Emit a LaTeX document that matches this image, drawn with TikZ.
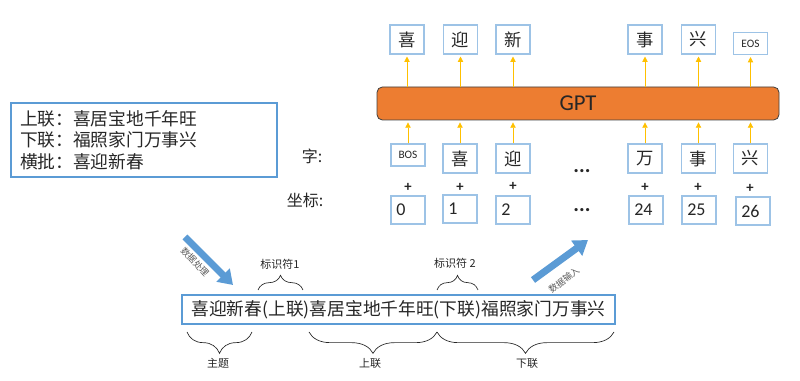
\documentclass[tikz,border=0pt]{standalone}
\usepackage{fontspec}
\setmainfont{Carlito}
\newfontfamily\cjk{Noto Sans CJK SC}
\usetikzlibrary{arrows.meta, decorations.pathreplacing}
\definecolor{palboxline}{RGB}{157,195,230}
\definecolor{palframe}{RGB}{91,155,213}
\definecolor{palgpt}{RGB}{237,125,49}
\definecolor{palgptline}{RGB}{64,64,64}
\definecolor{palfeed}{RGB}{255,192,0}
\definecolor{palflow}{RGB}{91,155,213}
\definecolor{palink}{RGB}{38,38,38}
\definecolor{palgray}{RGB}{89,89,89}
\tikzset{
  charbox/.style={
    draw=palboxline,
    line width=0.8pt,
    fill=white,
    minimum width=25.5pt,
    minimum height=21.75pt,
    inner sep=0pt,
    font=\cjk\fontsize{13}{15}\selectfont,
    text=palink
  },
  tagbox/.style={
    draw=palboxline,
    line width=0.8pt,
    fill=white,
    minimum width=25.5pt,
    minimum height=16.5pt,
    inner sep=0pt,
    font=\fontsize{8.5}{10}\selectfont,
    text=palink
  },
  numbox/.style={
    draw=palboxline,
    line width=0.8pt,
    fill=white,
    minimum width=25.5pt,
    minimum height=21pt,
    inner xsep=4pt,
    text width=17.5pt,
    align=left,
    font=\fontsize{13.5}{15}\selectfont,
    text=palink
  },
  gptbox/.style={
    draw=palgptline,
    line width=0.6pt,
    rounded corners=4pt,
    fill=palgpt,
    minimum width=301.5pt,
    minimum height=24.75pt,
    font=\fontsize{17}{19}\selectfont,
    text=palink
  },
  couplet/.style={
    draw=palframe,
    line width=0.9pt,
    minimum width=199.5pt,
    minimum height=55.5pt,
    inner xsep=6.75pt,
    text width=186pt,
    align=left,
    font=\cjk\fontsize{13.3}{16}\selectfont,
    text=palink
  },
  seqbox/.style={
    draw=palframe,
    line width=0.9pt,
    minimum width=324.75pt,
    minimum height=21.75pt,
    inner sep=0pt,
    font=\cjk\fontsize{13.3}{15}\selectfont,
    text=palink
  },
  rowlbl/.style={font=\cjk\fontsize{12}{14}\selectfont, text=palink},
  plus/.style={font=\bfseries\fontsize{11}{12}\selectfont, text=palink, inner sep=0pt},
  gap/.style={font=\bfseries\fontsize{16}{16}\selectfont, text=palink, inner sep=0pt},
  feed/.style={-{Triangle[length=4pt, width=4pt]}, draw=palfeed, line width=0.6pt, shorten >=1.5pt},
  flow/.style={-{Triangle[length=10.5pt, width=13.5pt]}, draw=palflow, line width=5.25pt},
  flowlbl/.style={font=\cjk\fontsize{6.75}{8}\selectfont, text=palgray, inner sep=0pt},
  bracetop/.style={decorate, decoration={brace, amplitude=11pt}, draw=palink, line width=0.5pt},
  bracebottom/.style={decorate, decoration={brace, mirror, amplitude=16pt}, draw=palink, line width=0.5pt},
  bracelbl/.style={font=\cjk\fontsize{8.25}{10}\selectfont, text=palink, inner sep=0pt}
}
\begin{document}
\begin{tikzpicture}[x=0.75pt,y=0.75pt]
  \useasboundingbox (0,0) rectangle (800,381);

  \node[couplet] (couplet) at (144,241) {上联：喜居宝地千年旺\\下联：福照家门万事兴\\横批：喜迎新春};

  \node[gptbox] (gpt) at (578,277.5) {GPT};

  \node[charbox] (out1) at (407,341.5) {喜};
  \node[charbox] (out2) at (460.5,341.5) {迎};
  \node[charbox] (out3) at (513,341.5) {新};
  \node[charbox] (out4) at (645,341.5) {事};
  \node[charbox] (out5) at (698.5,341.5) {兴};
  \node[tagbox] (out6) at (750.5,337.5) {EOS};

  \node[rowlbl] (charlbl) at (312,225) {字:};
  \node[tagbox] (in1) at (408,226) {BOS};
  \node[charbox] (in2) at (460,222.5) {喜};
  \node[charbox] (in3) at (513,222.5) {迎};
  \node[gap] (indots) at (582,210) {...};
  \node[charbox] (in4) at (645,222.5) {万};
  \node[charbox] (in5) at (698.5,222.5) {事};
  \node[charbox] (in6) at (750.5,222.5) {兴};

  \node[plus] (plus1) at (408,194) {+};
  \node[plus] (plus2) at (460,194) {+};
  \node[plus] (plus3) at (513,195) {+};
  \node[plus] (plus4) at (645,194) {+};
  \node[plus] (plus5) at (698,194) {+};
  \node[plus] (plus6) at (750,193) {+};

  \node[rowlbl] (poslbl) at (305,181) {坐标:};
  \node[numbox] (pos1) at (408,171) {0};
  \node[numbox] (pos2) at (460,172) {1};
  \node[numbox] (pos3) at (513,171) {2};
  \node[gap] (posdots) at (582,171) {...};
  \node[numbox] (pos4) at (646,171) {24};
  \node[numbox] (pos5) at (699,171) {25};
  \node[numbox] (pos6) at (753,170) {26};

  \foreach \i in {1,...,6} {
    \draw[feed] (in\i.north) -- (in\i.north |- gpt.south);
    \draw[feed] (gpt.north -| out\i.south) -- (out\i.south);
  }

  \node[seqbox] (seq) at (398.5,71.5) {喜迎新春(上联)喜居宝地千年旺(下联)福照家门万事兴};

  \coordinate (prepfrom) at (185,144);
  \coordinate (prepto) at (233,96);
  \draw[flow] (prepfrom) -- (prepto);
  \node[flowlbl, rotate=-47] (preplbl) at (195,119) {数据处理};

  \coordinate (feedfrom) at (533,101);
  \coordinate (feedto) at (588,141);
  \draw[flow] (feedfrom) -- (feedto);
  \node[flowlbl, rotate=38] (feedlbl) at (564,101) {数据输入};

  \draw[bracetop] (258,91) -- (303,91);
  \node[bracelbl] (tag1) at (280,117) {标识符1};
  \draw[bracetop] (437,91) -- (478,91);
  \node[bracelbl] (tag2) at (455,118) {标识符 2};

  \draw[bracebottom] (187,49) -- (252,49);
  \node[bracelbl] (topic) at (218,18) {主题};
  \draw[bracebottom] (309,49) -- (437,49);
  \node[bracelbl] (upper) at (370,18) {上联};
  \draw[bracebottom] (437,49) -- (614,49);
  \node[bracelbl] (lower) at (527,18) {下联};
\end{tikzpicture}
\end{document}
